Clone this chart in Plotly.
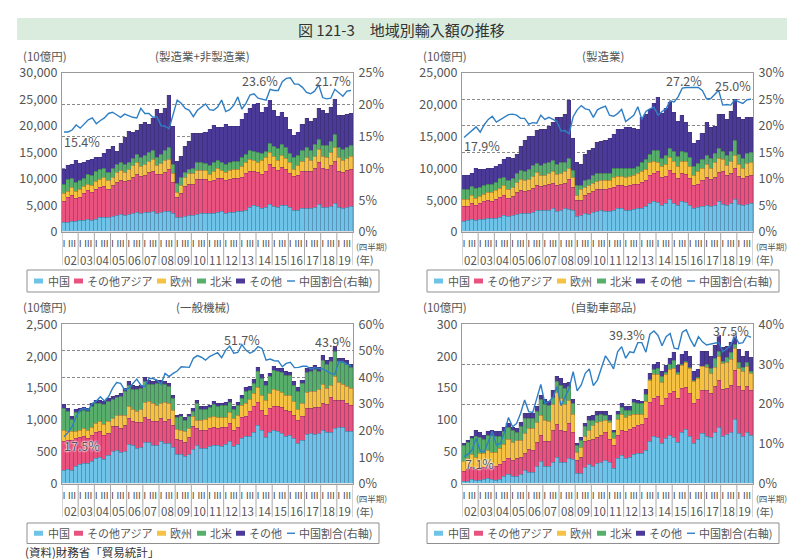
import numpy as np
import plotly.graph_objects as go

W, H = 800, 559
years = ["02","03","04","05","06","07","08","09","10","11","12","13","14","15","16","17","18","19"]
quarter_labels = ["Ⅰ", "Ⅲ"]
series_names = ["中国", "その他アジア", "欧州", "北米", "その他"]
line_name = "中国割合(右軸)"
colors = ["#6ec3e9", "#e9527f", "#f5c244", "#58af6c", "#4b3a97"]
line_color = "#2f7fc4"

# Panel 1 (thousand 10億円): upper edge of each stacked band
p1_china = [1.7,1.8,2.0,1.9, 2.1,2.2,2.3,2.2, 2.4,2.6,2.7,2.6, 2.8,3.0,3.2,3.1, 3.2,3.4,3.7,3.5, 3.7,3.7,3.9,3.4, 3.6,3.9,3.8,3.5,
            2.6,2.6,2.9,3.0, 3.0,3.3,3.4,3.4, 3.4,3.4,3.7,3.8, 3.5,3.6,3.7,3.9, 3.8,4.1,4.5,4.9, 4.8,4.4,4.6,5.2, 4.8,4.6,5.0,4.9,
            4.5,4.0,4.1,4.3, 4.4,4.3,4.5,5.1, 4.6,4.5,4.8,5.3, 4.6,4.4,4.6,4.7]
p1_asia = [5.7,6.4,6.8,6.2, 6.5,7.2,7.7,7.4, 7.9,8.3,8.5,8.0, 8.7,9.3,9.7,9.4, 9.7,10.2,10.8,10.5, 10.6,11.1,11.4,10.7, 10.7,11.1,11.7,9.3,
           6.4,7.3,8.6,9.0, 9.0,9.8,9.8,9.8, 9.4,9.6,10.1,10.0, 9.6,9.8,10.0,10.1, 10.2,10.9,11.3,11.4, 11.2,10.8,11.3,12.6, 12.1,11.6,12.2,11.7,
           11.0,10.4,10.6,11.3, 11.3,11.4,12.0,13.0, 12.0,11.8,12.4,13.3, 11.4,11.2,11.5,11.7]
p1_europe = [7.2,7.6,8.3,7.6, 8.0,8.5,9.0,8.7, 9.4,9.9,10.3,9.6, 10.2,11.1,11.5,11.1, 11.7,12.4,13.0,12.3, 12.6,13.2,13.7,12.5, 12.8,13.5,13.6,11.0,
             7.4,8.7,10.2,10.9, 11.0,11.5,11.5,11.5, 10.8,11.3,11.9,11.6, 11.2,11.5,11.7,11.8, 12.3,13.0,13.7,13.5, 13.1,13.4,14.0,15.0, 14.2,13.5,14.4,13.8,
             13.0,11.8,12.4,13.2, 13.9,13.5,14.2,15.5, 14.2,14.0,15.0,15.9, 13.9,13.5,13.8,14.2]
p1_namerica = [9.0,9.8,10.0,9.3, 9.7,10.1,10.8,10.6, 11.3,11.7,11.9,11.1, 11.9,12.7,13.1,12.6, 13.1,13.8,14.5,13.9, 14.3,14.9,15.3,14.0, 14.6,15.3,15.8,12.6,
               9.1,10.2,11.2,11.8, 12.0,13.0,13.0,12.9, 12.5,13.1,13.4,13.1, 12.6,13.1,13.2,13.3, 14.0,14.6,15.3,15.1, 14.9,14.7,15.2,16.7, 16.0,15.6,16.4,15.9,
               14.7,13.9,14.4,15.3, 15.8,15.4,16.5,17.3, 16.3,16.2,17.0,18.3, 15.8,15.5,15.9,16.3]
p1_total = [11.7,12.5,12.6,13.4, 12.9,13.1,13.4,13.7, 13.9,14.0,14.8,15.5, 16.0,15.1,16.6,17.8, 18.8,18.7,19.1,20.3, 20.5,20.3,21.3,23.0, 22.2,23.2,25.7,19.8,
            13.3,14.1,16.1,17.0, 18.6,18.6,18.6,18.7, 19.2,20.0,19.7,19.7, 20.2,19.8,19.8,19.8, 21.2,22.3,23.3,23.9, 24.1,22.5,23.5,24.7, 22.8,21.7,22.5,21.6,
            19.3,18.1,18.7,20.2, 21.4,20.8,21.3,23.3, 22.8,22.3,23.5,25.0, 21.9,21.9,22.1,22.2]
p1_share = [15.7,15.7,16.0,16.8, 16.3,17.0,17.6,17.9, 17.0,17.5,17.9,18.6, 18.8,18.4,18.0,18.5, 18.2,18.0,17.9,19.4, 18.6,18.6,18.0,18.1, 16.7,16.6,16.2,18.6,
            20.7,20.2,19.4,19.1, 18.1,19.1,19.6,20.1, 19.2,19.1,19.6,20.7, 18.9,19.2,19.9,21.2, 19.3,20.2,21.5,21.7, 21.0,20.8,20.7,22.4, 22.2,22.2,23.6,24.1,
            24.2,23.2,23.2,22.7, 21.9,21.7,22.1,23.1, 21.1,20.9,21.0,22.4, 21.9,21.3,22.1,22.2]

# Panel 2 (thousand 10億円)
p2_china = [1.6,1.7,1.9,1.8, 1.9,2.0,2.1,2.1, 2.1,2.3,2.5,2.4, 2.5,2.7,2.9,2.9, 2.9,3.1,3.4,3.3, 3.4,3.4,3.6,3.2, 3.4,3.7,3.5,3.3,
            2.4,2.5,2.8,2.7, 3.1,3.2,3.3,3.2, 3.2,3.4,3.6,3.6, 3.3,3.4,3.5,3.7, 3.6,3.9,4.5,4.7, 4.6,4.2,4.4,5.0, 4.5,4.2,4.8,4.6,
            4.2,3.7,3.8,4.0, 4.1,4.0,4.2,4.8, 4.3,4.2,4.5,5.0, 4.3,4.1,4.3,4.4]
p2_asia = [3.9,4.0,4.5,4.2, 4.4,4.7,4.9,4.8, 5.1,5.4,5.7,5.3, 5.6,6.1,6.5,6.4, 6.5,6.8,7.3,7.1, 7.2,7.4,7.6,7.3, 7.4,7.6,8.2,6.9,
           4.9,4.9,5.7,6.0, 6.4,6.6,6.7,6.6, 6.8,7.0,7.3,7.2, 7.1,7.2,7.4,7.5, 7.7,8.0,8.9,9.2, 9.4,8.6,8.7,9.6, 9.2,8.4,9.1,9.0,
           8.4,7.2,7.5,8.0, 8.6,8.2,8.6,9.3, 9.4,8.8,9.2,10.0, 8.7,8.3,8.7,8.8]
p2_europe = [5.0,5.1,5.7,5.3, 5.6,5.9,6.1,6.1, 6.5,6.8,7.2,6.7, 7.0,7.7,8.2,8.0, 8.2,8.7,9.3,8.8, 8.9,9.2,9.5,9.0, 9.2,9.4,9.9,8.5,
             5.7,6.6,6.9,7.3, 7.6,7.9,8.0,8.1, 8.0,8.6,8.7,8.7, 8.6,8.7,8.9,9.1, 9.4,9.7,10.8,11.0, 10.9,10.2,10.6,11.6, 11.1,10.3,11.0,11.0,
             10.2,8.8,9.4,10.0, 10.6,10.0,10.8,11.5, 11.3,10.4,11.0,12.0, 10.5,9.9,10.7,10.8]
p2_namerica = [6.6,6.6,7.1,6.8, 7.0,7.2,7.4,7.5, 7.8,8.3,8.5,8.1, 8.4,9.2,9.6,9.5, 9.8,10.4,10.7,10.4, 10.7,10.9,11.2,10.5, 10.8,10.8,11.5,9.6,
               7.2,7.2,8.0,8.2, 8.8,9.1,9.1,9.2, 9.2,9.9,9.9,9.9, 9.9,9.9,10.0,10.3, 10.8,11.3,12.2,12.7, 12.7,11.5,11.9,13.0, 12.6,11.8,12.6,12.4,
               11.6,10.2,10.7,11.4, 12.0,11.5,12.3,13.0, 12.6,11.9,12.6,14.4, 12.2,11.5,12.3,12.5]
p2_total = [8.9,8.9,9.2,9.9, 9.8,9.7,9.9,9.9, 10.3,10.6,11.3,11.7, 11.5,12.1,13.4,14.3, 14.9,14.9,15.9,16.0, 16.0,16.6,17.2,18.0, 18.0,18.4,20.6,14.7,
            10.8,10.6,12.1,12.8, 13.1,14.0,14.1,14.3, 14.7,15.2,16.0,16.0, 16.3,16.3,16.2,16.1, 18.0,18.4,19.2,20.1, 21.0,18.5,19.4,20.3, 18.7,17.3,18.2,17.2,
            15.6,13.9,14.4,15.5, 17.2,16.3,16.6,18.4, 18.4,17.6,18.9,20.7, 18.0,17.6,17.9,18.0]
p2_share = [17.8,18.5,19.1,19.8, 18.8,20.2,21.2,21.8, 20.7,21.2,21.7,22.1, 22.2,22.0,21.4,21.4, 20.3,20.6,20.5,22.0, 21.2,21.6,21.2,20.8, 19.0,19.1,18.5,21.7,
            23.0,23.8,23.2,23.0, 21.6,23.0,23.4,23.7, 22.0,21.8,22.3,23.1, 20.8,21.4,22.0,23.6, 21.2,22.7,23.2,23.5, 22.0,22.7,23.2,24.7, 24.5,25.5,27.1,27.2,
            27.2,27.2,27.2,26.6, 25.1,25.1,25.9,26.7, 23.9,24.0,23.9,24.9, 24.5,24.2,24.9,25.0]

# Panel 3 (10億円)
p3_china = [214,220,204,267, 298,314,314,345, 392,408,387,439, 513,518,486,513, 612,596,560,565, 643,643,607,607, 659,628,628,565,
            460,460,429,460, 544,607,554,549, 581,607,607,581, 622,669,591,617, 706,737,737,805, 910,837,732,805, 832,816,785,748,
            764,711,638,685, 774,785,774,795, 842,805,800,868, 879,884,826,816]
p3_asia = [659,675,675,711, 722,737,711,764, 805,826,753,790, 894,894,873,921, 1025,983,957,962, 1041,1015,973,983, 1025,983,1015,910,
           696,685,649,722, 894,868,842,842, 873,879,873,889, 879,947,842,879, 1046,1051,1140,1208, 1276,1156,1067,1182, 1208,1208,1192,1156,
           1140,1067,999,1051, 1182,1182,1192,1192, 1260,1245,1349,1313, 1308,1308,1255,1224]
p3_europe = [842,826,816,826, 842,868,842,879, 947,983,931,973, 1025,1077,1077,1077, 1219,1172,1140,1172, 1276,1287,1260,1234, 1260,1276,1260,1156,
             853,842,816,868, 1051,989,989,1015, 1036,1051,1041,1041, 1036,1119,1025,1067, 1234,1260,1328,1417, 1512,1381,1313,1417, 1485,1470,1433,1391,
             1381,1287,1172,1260, 1433,1444,1444,1480, 1564,1496,1538,1679, 1585,1559,1522,1496]
p3_namerica = [1182,1130,1015,1119, 1130,1145,1130,1208, 1260,1260,1250,1297, 1328,1349,1365,1444, 1548,1485,1485,1496, 1611,1564,1559,1574, 1574,1559,1522,1339,
               1036,1051,999,1051, 1130,1260,1172,1172, 1192,1245,1219,1224, 1224,1271,1172,1224, 1339,1454,1470,1574, 1757,1653,1548,1679, 1783,1757,1747,1705,
               1695,1548,1454,1574, 1747,1768,1799,1768, 1940,1878,1914,2082, 1914,1904,1872,1820]
p3_other = [60,55,45,45, 45,50,50,50, 50,50,45,45, 45,45,50,50, 60,55,50,55, 55,50,50,55, 55,50,55,50,
            40,40,35,40, 45,45,40,40, 45,50,45,40, 45,45,40,45, 45,55,55,60, 70,60,60,60, 60,60,60,60,
            60,60,55,55, 65,60,60,60, 70,60,65,70, 60,60,60,60]
p3_share = [17.7,19.3,21.5,25.2, 27.7,28.4,27.7,30.2, 31.1,32.7,31.1,32.7, 35.9,38.1,37.8,35.3, 35.9,37.8,39.4,37.1, 36.5,39.6,39.6,39.0, 37.4,41.5,40.3,41.5,
            42.4,44.0,44.0,43.8, 47.2,48.2,47.6,46.5, 47.8,48.7,49.3,47.4, 50.3,51.8,49.1,49.4, 52.4,50.3,49.1,49.9, 51.6,50.9,46.5,46.9, 46.3,46.2,44.0,45.3,
            45.7,43.7,43.8,44.2, 44.2,43.2,43.7,43.4, 43.2,42.4,41.5,41.2, 46.0,45.9,44.9,44.3]

# Panel 4 (readings taken as a share of the axis height, 300 = top of the frame)
p4_china = [4,5,8,6, 6,9,11,8, 7,8,14,17, 13,14,18,25, 22,22,33,42, 32,33,40,50, 40,41,48,45,
            19,20,31,37, 33,38,41,44, 40,29,47,54, 47,50,55,57, 57,62,80,89, 87,76,85,92, 87,78,97,102,
            90,76,84,94, 90,88,97,107, 90,93,97,122, 94,90,97,92]
p4_asia = [24,28,30,28, 30,30,35,33, 32,36,42,48, 44,47,49,58, 64,62,77,92, 80,80,100,112, 100,98,113,97,
           44,50,79,82, 83,88,91,96, 84,73,92,101, 99,102,107,110, 112,123,154,161, 164,148,161,170, 173,161,180,181,
           170,151,158,176, 175,170,183,195, 178,180,185,213, 183,175,183,175]
p4_europe = [43,47,55,50, 57,58,62,60, 60,66,75,84, 78,82,82,94, 105,105,115,128, 120,118,150,172, 160,150,157,130,
             60,68,90,100, 110,115,118,120, 115,85,122,130, 125,129,130,130, 131,155,195,205, 206,190,205,215, 217,205,222,228,
             218,193,198,222, 220,207,220,240, 226,228,235,255, 218,212,221,208]
p4_other = [4,5,5,10, 9,9,7,8, 8,9,8,7, 7,7,7,8, 8,8,8,8, 8,8,12,10, 12,9,8,6,
            4,6,6,7, 8,8,7,7, 8,5,6,7, 7,7,5,5, 5,10,10,10, 10,10,12,12, 14,13,20,20,
            20,18,15,28, 25,22,25,30, 25,20,20,20, 25,20,20,25]
p4_total = [76,82,90,100, 96,92,98,100, 98,98,106,114, 107,104,115,132, 132,132,145,166, 158,156,175,202, 198,189,191,158,
            76,87,114,126, 128,136,137,136, 128,101,136,151, 145,145,158,157, 156,178,207,225, 228,212,222,236, 247,223,244,250,
            239,212,216,249, 249,239,261,280, 256,258,267,283, 253,239,249,237]
p4_share = [6.8,7.4,8.5,11.4, 8.2,8.0,10.5,13.2, 9.7,10.1,12.9,16.6, 14.3,15.1,17.7,21.0, 18.1,17.9,21.4,24.9, 20.2,20.6,21.6,24.4, 19.6,21.6,23.9,28.1,
            23.3,24.8,27.7,28.8, 24.6,26.0,29.1,32.1, 30.6,28.8,33.1,34.4, 31.5,33.1,32.9,35.4, 35.4,33.0,37.5,38.3, 37.2,34.6,36.9,37.7, 34.0,33.8,38.0,38.6,
            36.2,34.4,36.9,35.6, 34.8,35.0,35.2,35.5, 33.1,33.8,34.8,37.2, 35.2,35.4,37.2,36.7]
# The reference's top tick on this axis reads 300 although the ticks run 0, 50, ... 200
p4_tick_text = ["0", "50", "100", "150", "200", "300"]

p3_total = list(np.array(p3_namerica) + np.array(p3_other))
p4_namerica = list(np.array(p4_total) - np.array(p4_other))

panels = [
    dict(left=62, right=353, top=72.7, bottom=232, ymax=30000, dy=5000, rmax=25, rd=5, scale=1000,
         tops=[p1_china, p1_asia, p1_europe, p1_namerica, p1_total], share=p1_share,
         title="(製造業+非製造業)", head_y=55.5, q_y=246, yr_y=260, sep=265, leg=(27, 270, 379, 292),
         labels=[("23.6%", 260, 80, False), ("21.7%", 333, 80, False), ("15.4%", 82, 141, False)]),
    dict(left=462, right=753, top=72.7, bottom=232, ymax=25000, dy=5000, rmax=30, rd=5, scale=1000,
         tops=[p2_china, p2_asia, p2_europe, p2_namerica, p2_total], share=p2_share,
         title="(製造業)", head_y=55.5, q_y=246, yr_y=260, sep=265, leg=(427, 270, 779, 292),
         labels=[("27.2%", 684, 81, False), ("25.0%", 733, 85, False), ("17.9%", 482, 145, False)]),
    dict(left=62, right=353, top=324.3, bottom=483.7, ymax=2500, dy=500, rmax=60, rd=10, scale=1,
         tops=[p3_china, p3_asia, p3_europe, p3_namerica, p3_total], share=p3_share,
         title="(一般機械)", head_y=307, q_y=497.5, yr_y=511, sep=517, leg=(27, 523, 379, 543.5),
         labels=[("51.7%", 242, 339, False), ("43.9%", 333, 341, False), ("17.5%", 82, 445, True)]),
    dict(left=462, right=753, top=324.3, bottom=483.7, ymax=250, dy=50, rmax=40, rd=10, scale=250 / 300,
         tick_text=p4_tick_text,
         tops=[p4_china, p4_asia, p4_europe, p4_namerica, p4_total], share=p4_share,
         title="(自動車部品)", head_y=307, q_y=497.5, yr_y=511, sep=517, leg=(427, 523, 779, 543.5),
         labels=[("39.3%", 627, 334, False), ("37.5%", 731, 330, True), ("7.1%", 479, 463, True)]),
]

FONT = "Noto Sans CJK JP"
TXT = "#555555"
FRAME = "#9a9a9a"
fx = lambda p: p / W
fy = lambda p: 1 - p / H

x_idx = list(range(len(years) * 4))
fig = go.Figure()
annotations, shapes = [], []
layout_axes = {}

def text(s, px, py, size=12, xanchor="center", color=TXT, **kw):
    font = dict(family=FONT, size=size, color=color)
    font.update(kw)
    annotations.append(dict(text=s, x=fx(px), y=fy(py), xref="paper", yref="paper", xanchor=xanchor,
                            yanchor="middle", showarrow=False, font=font, borderpad=0))

for i, p in enumerate(panels):
    n = i + 1
    xn = "x" if n == 1 else f"x{n}"
    yl = "y" if n == 1 else f"y{2*n-1}"
    yr = f"y{2*n}"
    prev = np.zeros(len(x_idx))
    for name, col, top in zip(series_names, colors, p["tops"]):
        arr = np.array(top, dtype=float)
        fig.add_trace(go.Bar(x=x_idx, y=(arr - prev) * p["scale"], name=name,
                             marker=dict(color=col, line=dict(width=0.5, color="rgba(40,30,60,0.3)")),
                             xaxis=xn, yaxis=yl, showlegend=False))
        prev = arr
    fig.add_trace(go.Scatter(x=x_idx, y=p["share"], name=line_name, mode="lines",
                             line=dict(color=line_color, width=1.4), xaxis=xn, yaxis=yr, showlegend=False))

    xax = "xaxis" if n == 1 else f"xaxis{n}"
    ylax = "yaxis" if n == 1 else f"yaxis{2*n-1}"
    yrax = f"yaxis{2*n}"
    q_vals = x_idx[::2]
    q_text = [quarter_labels[j % 2] for j in range(len(q_vals))]
    r_vals = list(range(0, p["rmax"] + 1, p["rd"]))
    l_vals = list(range(0, p["ymax"] + 1, p["dy"]))
    layout_axes[xax] = dict(domain=[fx(p["left"]), fx(p["right"])], anchor=yl, range=[-0.5, 71.5],
                            tickvals=q_vals, ticktext=q_text, tickangle=0, ticks="", showgrid=False, zeroline=False,
                            tickfont=dict(family=FONT, size=9, color="#444444"), ticklabelstandoff=3,
                            showline=True, linecolor=FRAME, linewidth=1, mirror=True)
    layout_axes[ylax] = dict(domain=[fy(p["bottom"]), fy(p["top"])], anchor=xn, range=[0, p["ymax"]],
                             tickvals=l_vals, ticktext=p.get("tick_text", [f"{v:,}" for v in l_vals]), ticks="",
                             showgrid=False, zeroline=False, showline=True, linecolor=FRAME, linewidth=1,
                             tickfont=dict(family=FONT, size=12.5, color=TXT), ticklabelstandoff=1)
    layout_axes[yrax] = dict(overlaying=yl, side="right", anchor=xn, range=[0, p["rmax"]],
                             tickvals=r_vals, ticktext=[f"{v}%" for v in r_vals], ticks="",
                             showgrid=True, griddash="3px,2px", gridcolor="#8a8a8a", gridwidth=1, zeroline=False,
                             showline=True, linecolor=FRAME, linewidth=1,
                             tickfont=dict(family=FONT, size=12.5, color=TXT), ticklabelstandoff=2)

    # year separators and year labels under the axis
    for k, yr_label in enumerate(years):
        shapes.append(dict(type="line", xref=xn, yref="paper", x0=4 * k - 0.5, x1=4 * k - 0.5,
                           y0=fy(p["bottom"]), y1=fy(p["sep"]), line=dict(color="#a8a8a8", width=1)))
        annotations.append(dict(text=yr_label, x=4 * k + 1.5, y=fy(p["yr_y"]), xref=xn, yref="paper",
                                showarrow=False, yanchor="middle", font=dict(family=FONT, size=11.5, color=TXT)))
    shapes.append(dict(type="line", xref=xn, yref="paper", x0=71.5, x1=71.5,
                       y0=fy(p["bottom"]), y1=fy(p["sep"]), line=dict(color="#a8a8a8", width=1)))

    # headers and unit labels
    text("(10億円)", p["left"] - 40, p["head_y"], size=11.5, xanchor="left")
    text(p["title"], p["left"] + 141, p["head_y"], size=11.5)
    text("(四半期)", p["right"] + 2, p["q_y"], size=8.5, xanchor="left")
    text("(年)", p["right"] + 2, p["yr_y"], size=10.5, xanchor="left")

    # value call-outs
    for s, px, py, halo in p["labels"]:
        kw = dict(shadow="0 0 2px #ffffff, 0 0 2px #ffffff, 0 0 2px #ffffff") if halo else {}
        text(s, px, py, size=12.5, **kw)

    # legend box drawn to the reference's spacing
    lx0, ly0, lx1, ly1 = p["leg"]
    shapes.append(dict(type="rect", xref="paper", yref="paper", x0=fx(lx0), x1=fx(lx1), y0=fy(ly1), y1=fy(ly0),
                       line=dict(color="#8f8f8f", width=1), fillcolor="#ffffff"))
    ly = (ly0 + ly1) / 2
    swatch_x = [34, 74, 157, 197, 236]
    text_x = [47, 86, 169, 209, 248]
    off = lx0 - 27
    for name, col, sx, tx in zip(series_names, colors, swatch_x, text_x):
        shapes.append(dict(type="rect", xref="paper", yref="paper", x0=fx(sx + off), x1=fx(sx + off + 9),
                           y0=fy(ly + 2.5), y1=fy(ly - 2.5), line=dict(width=0), fillcolor=col))
        text(name, tx + off, ly, size=11, xanchor="left")
    shapes.append(dict(type="line", xref="paper", yref="paper", x0=fx(287 + off), x1=fx(295 + off),
                       y0=fy(ly), y1=fy(ly), line=dict(color=line_color, width=1.4)))
    text(line_name, 298 + off, ly, size=11, xanchor="left")

# title band
shapes.append(dict(type="rect", xref="paper", yref="paper", x0=fx(17), x1=fx(787), y0=fy(40), y1=fy(18),
                   line=dict(width=0), fillcolor="#d9ecdd", layer="below"))
text("図 121-3　地域別輸入額の推移", 402, 29, size=15, color="#333333")
text("(資料)財務省「貿易統計」", 24, 551.5, size=11.5, xanchor="left", color="#333333")

fig.update_layout(width=W, height=H, autosize=False, margin=dict(l=0, r=0, t=0, b=0, autoexpand=False),
                  paper_bgcolor="#ffffff", plot_bgcolor="#ffffff", barmode="stack", bargap=0,
                  showlegend=False, annotations=annotations, shapes=shapes,
                  font=dict(family=FONT, color=TXT), **layout_axes)

fig.write_html("out.html", config={"displayModeBar": False}, post_script="document.body.style.margin='0';")
